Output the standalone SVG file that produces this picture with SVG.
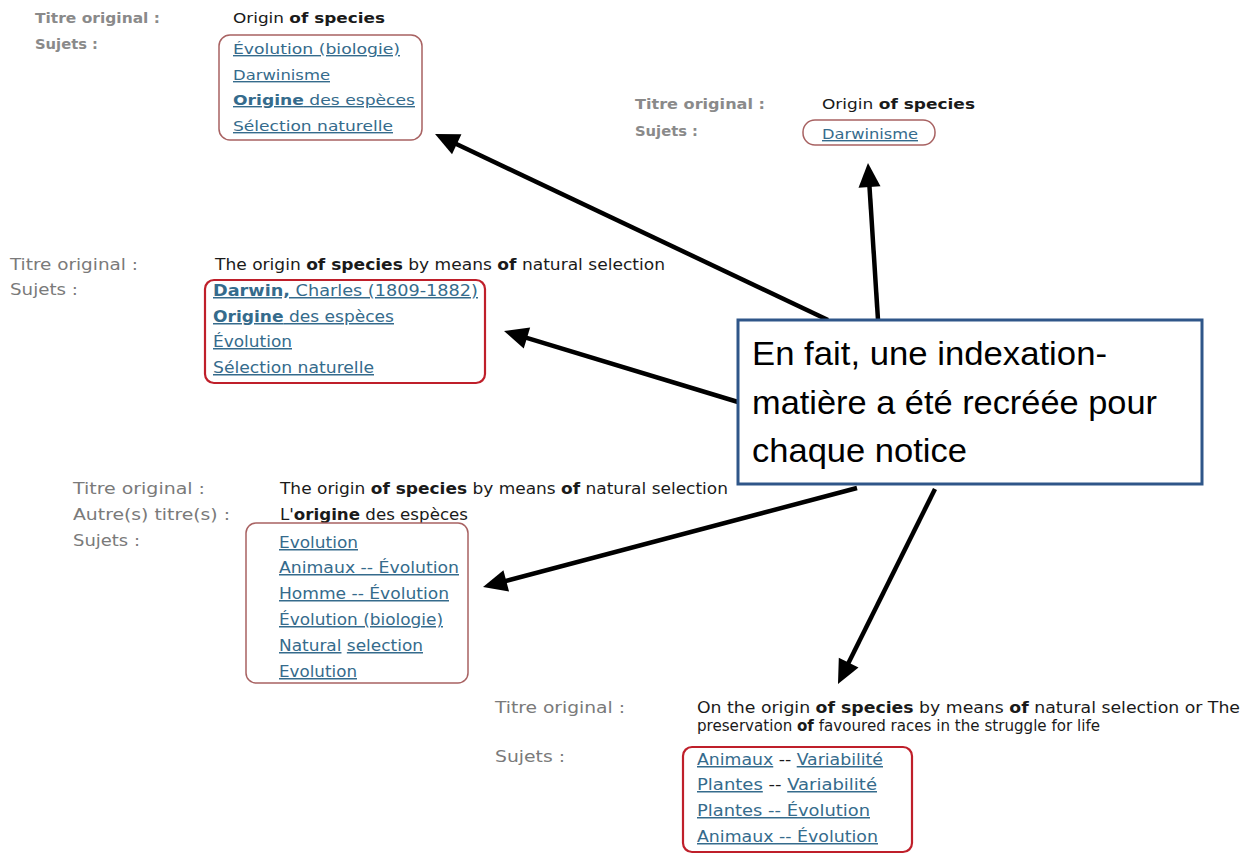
<svg xmlns="http://www.w3.org/2000/svg" width="1255" height="854" viewBox="0 0 1255 854">
<style>
.lb{font-family:"DejaVu Sans",Verdana,sans-serif;font-size:14px;font-weight:bold;fill:#8a8a8a}
.lc{font-family:"DejaVu Sans Condensed","DejaVu Sans",sans-serif;font-size:15px;fill:#7a7a7a}
.v{font-family:"DejaVu Sans",Verdana,sans-serif;font-size:14px;fill:#1a1a1a}
.vc{font-family:"DejaVu Sans Condensed","DejaVu Sans",sans-serif;font-size:15px;fill:#1a1a1a}
.a{fill:#356b8c;text-decoration:underline}
.b{font-weight:bold}
.box1{fill:none;stroke:#a86262;stroke-width:1.5}
.box2{fill:none;stroke:#bf1f2a;stroke-width:2.2}
.conn line{stroke:#000;stroke-width:4.5;marker-end:url(#ah)}
.callout rect{fill:#fff;stroke:#2f5689;stroke-width:3}
.callout text{font-family:"Liberation Sans",Arial,sans-serif;font-size:34px;fill:#000}
</style>
<defs>
<marker id="ah" markerUnits="userSpaceOnUse" markerWidth="24" markerHeight="22" refX="8" refY="11" orient="auto" overflow="visible">
<path d="M0,0 L24,11 L0,22 z" fill="#000"/>
</marker>
</defs>
<rect width="1255" height="854" fill="#fff"/>

<g id="notice1">
<text class="lb" x="35" y="23" textLength="125" lengthAdjust="spacingAndGlyphs">Titre original :</text>
<text class="lb" x="35" y="49" textLength="63" lengthAdjust="spacingAndGlyphs">Sujets :</text>
<text class="v" x="233" y="23" textLength="152" lengthAdjust="spacingAndGlyphs">Origin <tspan class="b">of species</tspan></text>
<rect class="box1" x="219" y="35" width="203" height="105" rx="11"/>
<text class="v a" x="233" y="54" textLength="167" lengthAdjust="spacingAndGlyphs">Évolution (biologie)</text>
<text class="v a" x="233" y="80" textLength="97" lengthAdjust="spacingAndGlyphs">Darwinisme</text>
<text class="v a" x="233" y="105" textLength="182" lengthAdjust="spacingAndGlyphs"><tspan class="b">Origine</tspan> des espèces</text>
<text class="v a" x="233" y="131" textLength="160" lengthAdjust="spacingAndGlyphs">Sélection naturelle</text>
</g>

<g id="notice2">
<text class="lb" x="635" y="109" textLength="130" lengthAdjust="spacingAndGlyphs">Titre original :</text>
<text class="lb" x="635" y="136" textLength="63" lengthAdjust="spacingAndGlyphs">Sujets :</text>
<text class="v" x="822" y="109" textLength="153" lengthAdjust="spacingAndGlyphs">Origin <tspan class="b">of species</tspan></text>
<rect class="box1" x="803" y="120" width="132" height="25" rx="12"/>
<text class="v a" x="822" y="139" textLength="96" lengthAdjust="spacingAndGlyphs">Darwinisme</text>
</g>

<g id="notice3">
<text class="lc" x="10" y="270" textLength="128" lengthAdjust="spacingAndGlyphs">Titre original :</text>
<text class="lc" x="10" y="295" textLength="68" lengthAdjust="spacingAndGlyphs">Sujets :</text>
<text class="vc" x="215" y="270" textLength="450" lengthAdjust="spacingAndGlyphs">The origin <tspan class="b">of species</tspan> by means <tspan class="b">of</tspan> natural selection</text>
<rect class="box2" x="205" y="280" width="280" height="103" rx="9"/>
<text class="vc a" x="213" y="296" textLength="265" lengthAdjust="spacingAndGlyphs"><tspan class="b">Darwin,</tspan> Charles (1809-1882)</text>
<text class="vc a" x="213" y="322" textLength="181" lengthAdjust="spacingAndGlyphs"><tspan class="b">Origine</tspan> des espèces</text>
<text class="vc a" x="213" y="347" textLength="79" lengthAdjust="spacingAndGlyphs">Évolution</text>
<text class="vc a" x="213" y="373" textLength="161" lengthAdjust="spacingAndGlyphs">Sélection naturelle</text>
</g>

<g id="notice4">
<text class="lc" x="73" y="494" textLength="132" lengthAdjust="spacingAndGlyphs">Titre original :</text>
<text class="lc" x="73" y="520" textLength="157" lengthAdjust="spacingAndGlyphs">Autre(s) titre(s) :</text>
<text class="lc" x="73" y="546" textLength="67" lengthAdjust="spacingAndGlyphs">Sujets :</text>
<text class="vc" x="280" y="494" textLength="448" lengthAdjust="spacingAndGlyphs">The origin <tspan class="b">of species</tspan> by means <tspan class="b">of</tspan> natural selection</text>
<text class="vc" x="280" y="520" textLength="188" lengthAdjust="spacingAndGlyphs">L'<tspan class="b">origine</tspan> des espèces</text>
<rect class="box1" x="246" y="523" width="222" height="160" rx="10"/>
<text class="vc a" x="279" y="548" textLength="79" lengthAdjust="spacingAndGlyphs">Evolution</text>
<text class="vc a" x="279" y="573" textLength="180" lengthAdjust="spacingAndGlyphs">Animaux -- Évolution</text>
<text class="vc a" x="279" y="599" textLength="170" lengthAdjust="spacingAndGlyphs">Homme -- Évolution</text>
<text class="vc a" x="279" y="625" textLength="164" lengthAdjust="spacingAndGlyphs">Évolution (biologie)</text>
<text class="vc" x="279" y="651" textLength="144" lengthAdjust="spacingAndGlyphs"><tspan class="a">Natural</tspan> <tspan class="a">selection</tspan></text>
<text class="vc a" x="279" y="677" textLength="78" lengthAdjust="spacingAndGlyphs">Evolution</text>
</g>

<g id="notice5">
<text class="lc" x="495" y="713" textLength="130" lengthAdjust="spacingAndGlyphs">Titre original :</text>
<text class="lc" x="495" y="762" textLength="70" lengthAdjust="spacingAndGlyphs">Sujets :</text>
<text class="vc" x="697" y="713" textLength="543" lengthAdjust="spacingAndGlyphs">On the origin <tspan class="b">of species</tspan> by means <tspan class="b">of</tspan> natural selection or The</text>
<text class="vc" x="697" y="731" textLength="403" lengthAdjust="spacingAndGlyphs">preservation <tspan class="b">of</tspan> favoured races in the struggle for life</text>
<rect class="box2" x="683" y="747" width="229" height="105" rx="9"/>
<text class="vc" x="697" y="765" textLength="186" lengthAdjust="spacingAndGlyphs"><tspan class="a">Animaux</tspan> -- <tspan class="a">Variabilité</tspan></text>
<text class="vc" x="697" y="790" textLength="180" lengthAdjust="spacingAndGlyphs"><tspan class="a">Plantes</tspan> -- <tspan class="a">Variabilité</tspan></text>
<text class="vc a" x="697" y="816" textLength="173" lengthAdjust="spacingAndGlyphs">Plantes -- Évolution</text>
<text class="vc a" x="697" y="842" textLength="181" lengthAdjust="spacingAndGlyphs">Animaux -- Évolution</text>
</g>

<g id="connectors" class="conn">
<line x1="828" y1="320" x2="449.5" y2="140.8"/>
<line x1="878" y1="320" x2="869" y2="179"/>
<line x1="738" y1="402" x2="519.3" y2="335.6"/>
<line x1="857" y1="488" x2="498.5" y2="582.9"/>
<line x1="935" y1="489" x2="845.1" y2="669.7"/>
</g>

<g id="callout" class="callout">
<rect x="738" y="320" width="464" height="164"/>
<text x="752" y="365" textLength="355" lengthAdjust="spacingAndGlyphs">En fait, une indexation-</text>
<text x="752" y="414" textLength="405" lengthAdjust="spacingAndGlyphs">matière a été recréée pour</text>
<text x="752" y="462" textLength="215" lengthAdjust="spacingAndGlyphs">chaque notice</text>
</g>
</svg>
